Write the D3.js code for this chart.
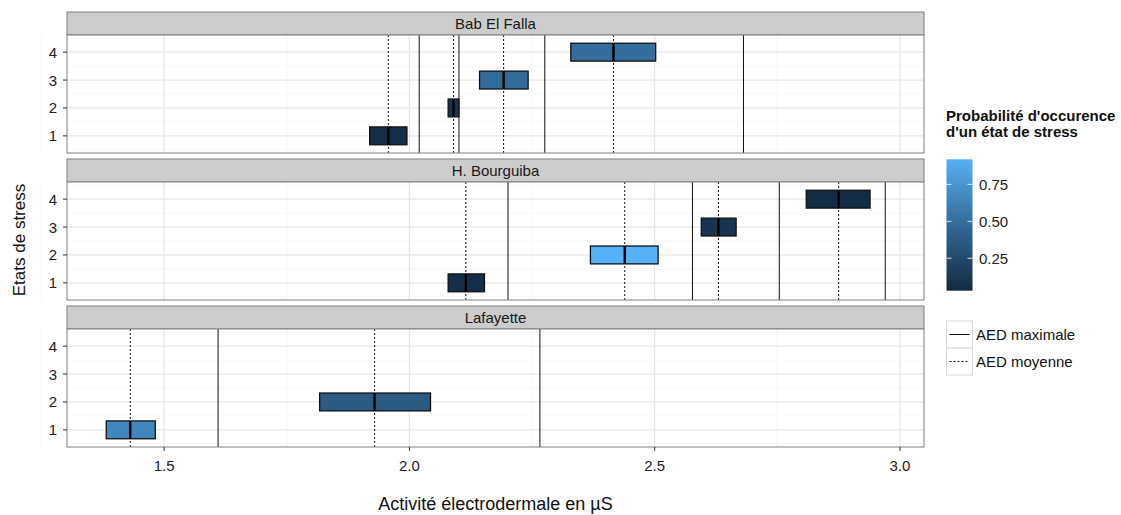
<!DOCTYPE html>
<html><head><meta charset="utf-8">
<script src="https://cdn.jsdelivr.net/npm/d3@7"></script>
<style>body{margin:0;background:#fff;} svg{font-family:"Liberation Sans",Arial,sans-serif;}</style>
</head><body>
<svg id="chart" width="1121" height="515"></svg>
<script>
// ---- data ----
const panels = ["Bab El Falla", "H. Bourguiba", "Lafayette"];
const babStates = [1, 2, 3, 4];
const babMean = [1.957, 2.090, 2.192, 2.416];
const babLow  = [1.919, 2.079, 2.143, 2.329];
const babHigh = [1.995, 2.101, 2.242, 2.502];
const babMax  = [2.020, 2.101, 2.276, 2.681];
const babProb = [0.05, 0.10, 0.48, 0.49];

const bourStates = [1, 2, 3, 4];
const bourMean = [2.115, 2.439, 2.630, 2.875];
const bourLow  = [2.079, 2.369, 2.595, 2.809];
const bourHigh = [2.153, 2.507, 2.666, 2.939];
const bourMax  = [2.201, 2.577, 2.754, 2.970];
const bourProb = [0.05, 0.92, 0.10, 0.03];

const lafStates = [1, 2];
const lafMean = [1.431, 1.929];
const lafLow  = [1.382, 1.817];
const lafHigh = [1.482, 2.043];
const lafMax  = [1.610, 2.266];
const lafProb = [0.66, 0.37];

const xTicks = [1.5, 2.0, 2.5, 3.0];
const xMinor = [1.25, 1.75, 2.25, 2.75];
const yTicks = [1, 2, 3, 4];
const yMinor = [0.5, 1.5, 2.5, 3.5, 4.5];
const legendTicks = [0.25, 0.50, 0.75];
const lineKeys = ["AED maximale", "AED moyenne"];

function build(states, mean, low, high, max, prob) {
  return states.map((s, i) => ({state: s, mean: mean[i], low: low[i], high: high[i], max: max[i], prob: prob[i]}));
}
const panelData = [
  build(babStates, babMean, babLow, babHigh, babMax, babProb),
  build(bourStates, bourMean, bourLow, bourHigh, bourMax, bourProb),
  build(lafStates, lafMean, lafLow, lafHigh, lafMax, lafProb)
];

// ---- layout ----
const svg = d3.select("#chart");
const L = 67, R = 924;
const stripH = 23, panelH = 118, top0 = 12, step = 147;
const x = d3.scaleLinear().domain([1.302, 3.049]).range([L, R]);
const allProb = babProb.concat(bourProb, lafProb);
const color = d3.scaleLinear().domain(d3.extent(allProb)).range(["#132B43", "#56B1F7"]).interpolate(d3.interpolateLab);
const halfH = 0.32;

panels.forEach((name, p) => {
  const sTop = top0 + p * step;
  const pTop = sTop + stripH;
  const pBot = pTop + panelH;
  const y = d3.scaleLinear().domain([0.385, 4.615]).range([pBot, pTop]);
  const g = svg.append("g");

  // strip
  g.append("rect").attr("x", L).attr("y", sTop).attr("width", R - L).attr("height", stripH)
    .attr("fill", "#cccccc").attr("stroke", "#7f7f7f").attr("stroke-width", 1);
  g.append("text").attr("x", (L + R) / 2).attr("y", sTop + stripH / 2 + 5.5).attr("text-anchor", "middle")
    .attr("font-size", 15).attr("fill", "#1a1a1a").text(name);

  // panel bg
  g.append("rect").attr("x", L).attr("y", pTop).attr("width", R - L).attr("height", panelH).attr("fill", "#fff");
  // grid minor
  g.selectAll(".xm").data(xMinor).enter().append("line")
    .attr("x1", d => x(d)).attr("x2", d => x(d)).attr("y1", pTop).attr("y2", pBot)
    .attr("stroke", "#f4f4f4").attr("stroke-width", 1);
  g.selectAll(".ym").data(yMinor).enter().append("line")
    .attr("x1", L).attr("x2", R).attr("y1", d => y(d)).attr("y2", d => y(d))
    .attr("stroke", "#f7f7f7").attr("stroke-width", 1);
  // grid major
  g.selectAll(".xM").data(xTicks).enter().append("line")
    .attr("x1", d => x(d)).attr("x2", d => x(d)).attr("y1", pTop).attr("y2", pBot)
    .attr("stroke", "#e8e8e8").attr("stroke-width", 1.3);
  g.selectAll(".yM").data(yTicks).enter().append("line")
    .attr("x1", L).attr("x2", R).attr("y1", d => y(d)).attr("y2", d => y(d))
    .attr("stroke", "#e8e8e8").attr("stroke-width", 1.3);

  const data = panelData[p];
  // max lines (solid)
  g.selectAll(".mx").data(data).enter().append("line")
    .attr("x1", d => x(d.max)).attr("x2", d => x(d.max)).attr("y1", pTop).attr("y2", pBot)
    .attr("stroke", "#111").attr("stroke-width", 1);
  // mean lines (dotted)
  g.selectAll(".mn").data(data).enter().append("line")
    .attr("x1", d => x(d.mean)).attr("x2", d => x(d.mean)).attr("y1", pTop).attr("y2", pBot)
    .attr("stroke", "#111").attr("stroke-width", 1).attr("stroke-dasharray", "2,2");
  // crossbars
  g.selectAll(".cb").data(data).enter().append("rect")
    .attr("x", d => x(d.low)).attr("y", d => y(d.state + halfH))
    .attr("width", d => x(d.high) - x(d.low)).attr("height", d => y(d.state - halfH) - y(d.state + halfH))
    .attr("fill", d => color(d.prob)).attr("stroke", "#111").attr("stroke-width", 1.3);
  g.selectAll(".cm").data(data).enter().append("line")
    .attr("x1", d => x(d.mean)).attr("x2", d => x(d.mean))
    .attr("y1", d => y(d.state + halfH)).attr("y2", d => y(d.state - halfH))
    .attr("stroke", "#000").attr("stroke-width", 2.4);

  // border
  g.append("rect").attr("x", L).attr("y", pTop).attr("width", R - L).attr("height", panelH)
    .attr("fill", "none").attr("stroke", "#7f7f7f").attr("stroke-width", 1);

  // y axis
  const ya = g.append("g");
  yTicks.forEach(t => {
    ya.append("line").attr("x1", L - 4).attr("x2", L).attr("y1", y(t)).attr("y2", y(t)).attr("stroke", "#333").attr("stroke-width", 1);
    ya.append("text").attr("x", L - 10).attr("y", y(t) + 5.5).attr("text-anchor", "end")
      .attr("font-size", 15).attr("fill", "#222").text(t);
  });

  if (p === panels.length - 1) {
    xTicks.forEach(t => {
      g.append("line").attr("x1", x(t)).attr("x2", x(t)).attr("y1", pBot).attr("y2", pBot + 4).attr("stroke", "#333");
      g.append("text").attr("x", x(t)).attr("y", pBot + 23.5).attr("text-anchor", "middle")
        .attr("font-size", 15).attr("fill", "#222").text(d3.format(".1f")(t));
    });
  }
});

// axis titles
svg.append("text").attr("x", (L + R) / 2).attr("y", 510).attr("text-anchor", "middle")
  .attr("font-size", 18).attr("fill", "#111").text("Activité électrodermale en µS");
svg.append("text").attr("transform", "translate(25,240) rotate(-90)").attr("text-anchor", "middle")
  .attr("font-size", 17).attr("fill", "#111").text("Etats de stress");

// colour legend
const lg = svg.append("g");
lg.append("text").attr("x", 946).attr("y", 121).attr("font-size", 15).attr("font-weight", "bold").attr("fill", "#111")
  .text("Probabilité d'occurence");
lg.append("text").attr("x", 946).attr("y", 137).attr("font-size", 15).attr("font-weight", "bold").attr("fill", "#111")
  .text("d'un état de stress");
const defs = svg.append("defs");
const grad = defs.append("linearGradient").attr("id", "gr").attr("x1", 0).attr("x2", 0).attr("y1", 1).attr("y2", 0);
const dom = color.domain();
d3.range(0, 1.0001, 0.1).forEach(t => {
  grad.append("stop").attr("offset", t).attr("stop-color", color(dom[0] + t * (dom[1] - dom[0])));
});
const barTop = 159.3, barBot = 290.7, barX = 946.5, barW = 26;
lg.append("rect").attr("x", barX).attr("y", barTop).attr("width", barW).attr("height", barBot - barTop).attr("fill", "url(#gr)");
const ly = d3.scaleLinear().domain(dom).range([barBot, barTop]);
legendTicks.forEach(t => {
  lg.append("line").attr("x1", barX).attr("x2", barX + 5).attr("y1", ly(t)).attr("y2", ly(t)).attr("stroke", "#fff").attr("stroke-opacity", 0.8);
  lg.append("line").attr("x1", barX + barW - 5).attr("x2", barX + barW).attr("y1", ly(t)).attr("y2", ly(t)).attr("stroke", "#fff").attr("stroke-opacity", 0.8);
  lg.append("text").attr("x", 979).attr("y", ly(t) + 5.5).attr("font-size", 15).attr("fill", "#222").text(d3.format(".2f")(t));
});

// line legend
lineKeys.forEach((k, i) => {
  const ky = 321 + i * 27;
  lg.append("rect").attr("x", barX).attr("y", ky).attr("width", barW).attr("height", 27)
    .attr("fill", "#fff").attr("stroke", "#d9d9d9").attr("stroke-width", 1);
  lg.append("line").attr("x1", barX + 3).attr("x2", barX + barW - 3).attr("y1", ky + 13.5).attr("y2", ky + 13.5)
    .attr("stroke", "#111").attr("stroke-width", 1).attr("stroke-dasharray", i === 1 ? "2,2" : null);
  lg.append("text").attr("x", 976).attr("y", ky + 19).attr("font-size", 15).attr("fill", "#111").text(k);
});
</script>
</body></html>
